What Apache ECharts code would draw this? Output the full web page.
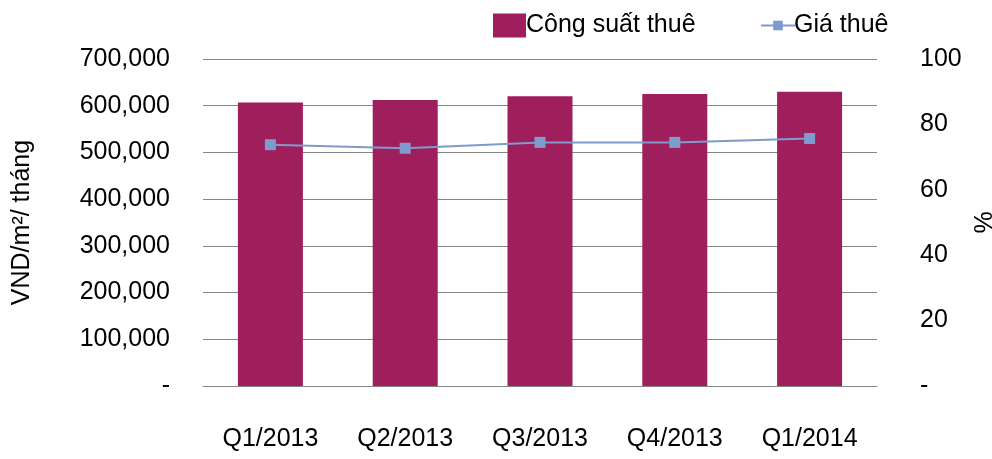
<!DOCTYPE html>
<html>
<head>
<meta charset="utf-8">
<script src="https://cdn.jsdelivr.net/npm/echarts@6/dist/echarts.min.js"></script>
<style>
html, body { margin: 0; padding: 0; background: #fff; }
#chart { width: 992px; height: 459px; }
</style>
</head>
<body>
<div id="chart"></div>
<script>
var quarters = ["Q1/2013", "Q2/2013", "Q3/2013", "Q4/2013", "Q1/2014"];
var rentCapacity = [607000, 612000, 620000, 625000, 630000];   // Công suất thuê (left axis)
var rentPrice = [73.8, 72.7, 74.5, 74.5, 75.7];                // Giá thuê (right axis, %)

var barColor = "#9E1F5C";
var lineColor = "#7F9ACD";
var font = "Liberation Sans, Arial, sans-serif";
var fs = 25;

function thousands(v) {
    if (v === 0) return "-";
    return String(v).replace(/\B(?=(\d{3})+(?!\d))/g, ",");
}

var chart = echarts.init(document.getElementById("chart"));

chart.setOption({
    animation: false,
    textStyle: { fontFamily: font, color: "#000" },
    grid: { left: 203, right: 115, top: 59, bottom: 73, containLabel: false, outerBoundsMode: "none" },
    legend: [{
        data: [{ name: "Công suất thuê", icon: "rect" }],
        left: 488, top: 8,
        itemWidth: 33, itemHeight: 24, itemGap: 0,
        textStyle: { fontFamily: font, fontSize: fs, color: "#000", padding: [0, 0, 0, -5] }
    }, {
        data: ["Giá thuê"],
        left: 755, top: 8,
        itemWidth: 34, itemHeight: 12,
        itemStyle: { borderWidth: 0 },
        textStyle: { fontFamily: font, fontSize: fs, color: "#000", padding: [0, 0, 0, -6] }
    }],
    xAxis: {
        type: "category",
        data: quarters,
        axisTick: { show: false },
        axisLine: { lineStyle: { color: "#868686", width: 1 } },
        axisLabel: { fontSize: fs, color: "#000", margin: 41, fontFamily: font }
    },
    yAxis: [{
        type: "value",
        min: 0, max: 700000, interval: 100000,
        name: "VND/m²/ tháng",
        nameLocation: "middle",
        nameGap: 168,
        nameTextStyle: { fontSize: fs, color: "#000", fontFamily: font },
        axisLine: { show: false },
        axisTick: { show: false },
        splitLine: { lineStyle: { color: "#868686", width: 1 } },
        axisLabel: { fontSize: fs, color: "#000", margin: 33, formatter: thousands, fontFamily: font }
    }, {
        type: "value",
        min: 0, max: 100, interval: 20,
        name: "%",
        nameLocation: "middle",
        nameGap: 96,
        nameTextStyle: { fontSize: fs, color: "#000", fontFamily: font },
        axisLine: { show: false },
        axisTick: { show: false },
        splitLine: { show: false },
        axisLabel: { fontSize: fs, color: "#000", margin: 43, formatter: function (v) { return v === 0 ? "-" : v; }, fontFamily: font }
    }],
    series: [{
        name: "Công suất thuê",
        type: "bar",
        data: rentCapacity,
        barWidth: 65,
        itemStyle: { color: barColor }
    }, {
        name: "Giá thuê",
        type: "line",
        yAxisIndex: 1,
        data: rentPrice,
        symbol: "rect",
        symbolSize: 11,
        lineStyle: { color: lineColor, width: 2 },
        itemStyle: { color: lineColor }
    }]
});
</script>
</body>
</html>
